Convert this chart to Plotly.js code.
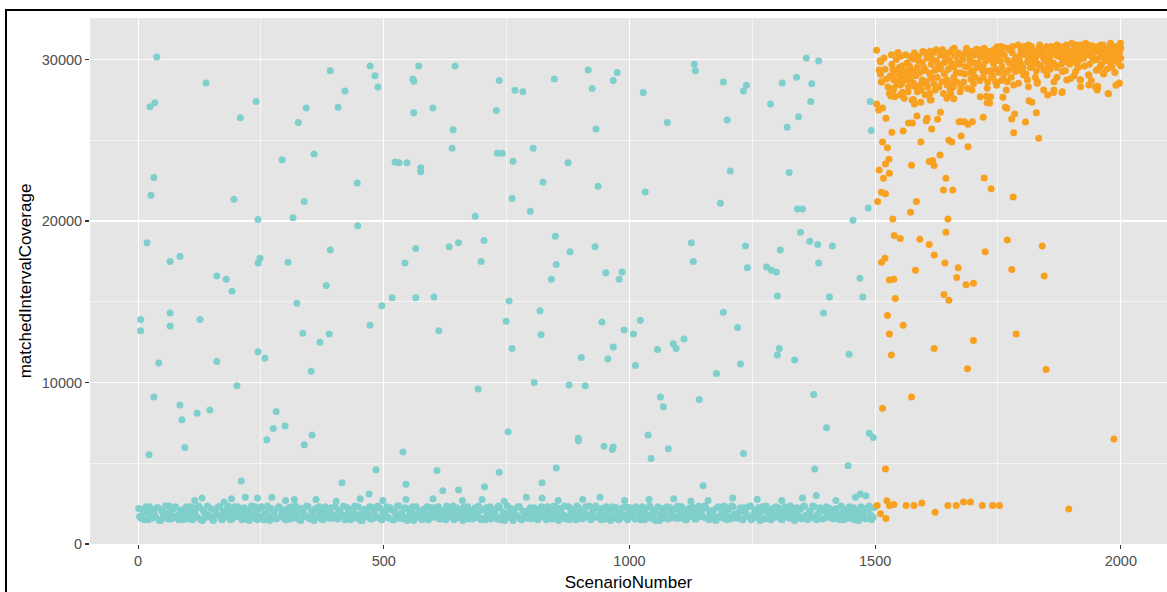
<!DOCTYPE html>
<html>
<head>
<meta charset="utf-8">
<script src="https://cdn.plot.ly/plotly-3.0.1.min.js"></script>
<style>
  html, body { margin: 0; padding: 0; background: #fff; }
  #chart { position: absolute; left: 0; top: 0; width: 1167px; height: 592px; }
  .frameL { position: absolute; left: 5px; top: 9px; width: 2px; height: 583px; background: #000; z-index: 5; }
  .frameT { position: absolute; left: 5px; top: 9px; width: 1162px; height: 2px; background: #000; z-index: 5; }
</style>
</head>
<body>
<div id="chart"></div>
<div class="frameL"></div>
<div class="frameT"></div>
<script>
// ---------------- DATA ----------------
const xTicks = [0, 500, 1000, 1500, 2000];
const yTicks = [0, 10000, 20000, 30000];
const xTitle = "ScenarioNumber";
const yTitle = "matchedIntervalCoverage";

// dense low band (teal), read as an every-5th-scenario sample starting at scenario 1
const bandAStart = 1;
const bandStep = 5;
const bandValuesA = [
  2200,1600,1900,2300,1500,1750,2100,1650,2250,1450,1850,2350,1550,2000,1700,2300,1600,1950,1500,2150,
  1800,2300,1500,2050,1650,2250,1450,1900,2350,1700,1550,2100,1800,2300,1500,1650,2200,1900,1550,2300,
  1700,2000,1500,2250,1850,1450,2350,1600,2050,1750,2300,1500,1950,1650,2200,1800,1550,2300,1700,2100,
  1500,2250,1800,1600,2350,1950,1450,2100,1700,2300,1550,1850,2200,1650,2000,1500,2300,1750,1900,1600,
  2300,1550,2050,1800,1500,2250,1700,1950,2350,1600,1850,1450,2150,1750,2300,1550,2000,1650,2250,1500,
  1850,2300,1600,2100,1500,1750,2350,1900,1550,2200,1700,2050,1450,2300,1800,1600,2150,1950,1500,2250,
  1650,2000,2300,1550,1850,1500,2200,1750,2350,1600,1950,2100,1450,1800,2300,1700,1550,2250,1900,1600,
  2100,1500,1800,2300,1650,2000,1550,2250,1700,1450,2350,1900,1600,2150,1750,2300,1500,1850,2050,1650,
  1550,2250,1950,1600,2300,1700,1500,2100,1850,2350,1650,1450,2200,1800,1550,2300,2000,1700,1500,2250,
  1900,1600,2300,1750,1500,2050,2350,1650,1850,2200,1550,1950,1450,2300,1700,2100,1600,2250,1800,1500,
  2250,1700,1550,2100,1900,2300,1500,1650,2350,1800,2000,1550,1450,2200,1750,2300,1600,1950,2150,1700,
  1600,2300,1850,1500,2200,1700,2050,1550,2350,1900,1650,2250,1500,1800,2100,1450,2300,1750,1600,2000,
  2150,1550,2300,1800,1650,2250,1500,1950,1700,2350,1600,2100,1850,1450,2300,1550,2000,1750,2200,1650,
  1750,2000,1500,2300,1900,1600,2150,1450,2250,1700,1550,2350,1800,2050,1650,2300,1500,1950,2100,1600,
  2300,1650,1900,1550,2200,1750,2350,1500,1850,2050,1600,2250,1700,1450,2300,1950,1550,2100,1800,1650
];
// second band sample, every 5th scenario starting at scenario 3
const bandBStart = 3;
const bandValuesB = [
  1700,2150,1500,1950,2300,1600,1850,2250,1450,2050,1650,1900,2350,1550,2200,1750,1500,2100,1800,2300,
  1550,1950,2250,1700,2350,1500,2050,1650,1800,2200,1450,1900,2300,1600,2000,1750,2350,1500,2150,1850,
  2300,1650,1850,1550,2100,2000,1700,2300,1500,2200,1650,1900,2350,1450,1750,2050,1600,2250,1900,1550,
  1950,1550,2300,2050,1650,1500,2200,1800,2350,1600,2000,1450,1700,2300,1550,1850,2150,1600,2250,1800,
  1650,2100,1850,2350,1600,1950,1500,2150,1800,2300,1450,2050,1700,1900,1550,2250,1750,2350,1600,1950,
  2050,1650,2250,1500,1950,2350,1600,1750,2250,1450,1900,2300,1650,1850,2050,1500,1750,2300,1650,1850,
  2250,1800,1550,2100,1950,2350,1650,2000,1500,2250,1700,1600,2300,1950,1550,2050,1850,1650,2350,1500,
  1600,2250,2050,1550,2150,1750,2350,1500,1950,1850,1650,2200,1450,1800,2300,1550,2050,1700,1600,2250,
  2000,1700,1500,2150,1800,2000,2300,1650,1550,1950,2250,1850,1600,2350,1700,1500,2150,1900,2350,1700,
  1550,2050,1800,2350,1900,1650,1700,2200,1500,1750,2300,1650,2050,1600,2250,1500,1850,1700,2300,1950,
  1800,2050,2300,1650,1500,1950,2200,1800,1600,2100,1450,2300,1850,1600,2000,1550,2250,1700,1600,2350,
  2000,1650,1500,2100,1800,2300,1550,1900,1700,2150,2350,1600,2000,1550,1750,2250,1650,2050,2350,1500,
  1700,2350,1850,1600,2000,1550,2250,1800,2300,1500,1850,1650,2250,2000,1600,2350,1700,1500,1900,2300,
  2250,1550,1850,2050,1650,2350,1750,1950,1600,2150,2300,1750,1500,2000,2350,1600,1850,2250,1550,2050,
  1850,2200,1600,2050,1750,1500,1950,2150,1600,2300,1900,1500,2050,1800,1650,2200,1600,2350,1500,2250
];

// teal points just above the band [scenario, coverage]
const tealLowOutliers = [
  [115,2700],[130,2850],[175,2600],[190,2800],[218,2900],[243,2850],[272,2900],[300,2700],[318,2750],[362,2750],
  [403,2650],[452,2800],[470,3100],[498,2700],[545,2750],[600,2800],[660,2700],[700,2750],[745,2650],[790,2900],
  [822,2850],[855,2700],[905,2750],[940,2900],[990,2700],[1040,2750],[1090,2800],[1125,2650],[1160,2700],[1210,2850],
  [1260,2750],[1310,2700],[1352,2850],[1380,3000],[1420,2700],[1460,2900],[1470,3100],[1481,2990],
  [545,3700],[705,3550],[822,3800],[1150,3600]
];

// teal scattered points [scenario, coverage]
const tealScatter = [
  [5,13900],[5,13200],[18,18650],[22,5530],[24,27070],[34,27320],[38,30160],[26,21600],[32,22700],[32,9100],
  [42,11200],[65,17500],[65,14300],[65,13500],[85,17800],[85,8600],[89,7700],[95,5970],[120,8100],[126,13900],
  [138,28550],[146,8300],[160,11300],[160,16600],[179,16400],[191,15650],[195,21350],[201,9800],[208,26400],[210,3900],
  [240,27400],[244,20100],[244,17400],[248,17700],[244,11900],[258,11500],[262,6450],[275,7150],[281,8200],[293,23800],
  [299,7300],[305,17450],[315,20200],[323,14900],[326,26100],[338,21200],[335,13050],[338,6150],[342,27000],[352,10700],
  [354,6750],[358,24150],[370,12500],[383,16000],[389,13000],[391,18200],[391,29300],[407,27050],[415,3800],[421,28050],
  [446,22350],[447,19700],[472,13550],[472,29600],[482,29000],[488,28300],[484,4600],[496,14750],[517,15250],[523,23650],
  [531,23600],[539,5700],[543,17400],[547,23600],[559,28800],[561,28650],[561,26700],[565,18300],[565,15250],[571,29600],
  [575,23300],[575,23050],[600,27000],[602,15300],[608,4550],[612,13200],[620,3300],[633,18400],[639,24500],[641,25650],
  [645,29600],[652,18650],[652,3350],[686,20300],[698,17500],[704,18800],[692,9600],[729,26850],[731,24200],[735,28700],
  [741,24200],[735,4450],[749,13800],[755,15050],[753,6950],[761,12100],[763,23700],[761,21400],[767,28100],[783,28000],
  [798,20600],[804,24500],[806,10000],[818,14450],[820,12950],[824,22400],[841,16400],[849,19050],[851,4700],[851,17300],
  [847,28800],[875,23600],[879,18100],[877,9850],[896,6550],[896,6400],[902,11550],[910,9800],[916,29350],[924,28200],
  [930,18400],[932,25700],[936,22150],[944,13750],[948,6050],[952,16800],[956,11450],[965,5850],[967,6000],[967,12200],
  [967,28700],[975,29200],[979,16400],[985,16850],[989,13250],[1008,13000],[1012,11050],[1022,13850],[1028,27950],[1032,21800],
  [1038,6750],[1044,5300],[1057,12050],[1063,9100],[1069,8500],[1077,26100],[1079,5900],[1089,12400],[1095,12100],[1111,12700],
  [1126,18650],[1132,29700],[1134,29300],[1130,17500],[1142,8950],[1177,10550],[1185,21100],[1191,28600],[1191,14350],[1199,26250],
  [1205,23100],[1220,13400],[1226,11150],[1232,28050],[1238,28400],[1236,18450],[1240,17100],[1232,5600],[1287,27250],[1279,17150],
  [1289,16950],[1299,16850],[1301,11700],[1305,12100],[1301,15350],[1311,28550],[1307,18200],[1321,25800],[1325,23000],[1336,11400],
  [1340,28900],[1344,26450],[1342,20750],[1352,20750],[1348,19300],[1360,30100],[1369,27400],[1371,28500],[1367,18750],[1375,9250],
  [1385,29900],[1385,17400],[1383,18550],[1395,14300],[1401,7200],[1407,15300],[1413,18450],[1377,4650],[1447,11750],[1445,4850],
  [1455,20050],[1469,16450],[1475,15300],[1486,20800],[1490,27400],[1492,25600],[1488,6850],[1496,6600]
];

// orange dense upper cloud [scenario, coverage]
const orangeCloud = [
  [1546,30420],[1534,29700],[1565,29800],[1572,30170],[1578,30030],[1589,29890],[1596,29800],[1601,30440],[1612,30510],[1619,30440],
  [1628,30510],[1635,30280],[1643,30110],[1652,30440],[1661,30690],[1660,29550],[1668,29850],[1677,30170],[1684,30440],[1673,29180],
  [1684,29550],[1693,29960],[1702,30280],[1706,30630],[1714,30170],[1723,30280],[1730,30070],[1739,30230],[1748,30790],[1755,30590],
  [1761,30760],[1714,29550],[1728,29250],[1741,29760],[1751,29960],
  [1541,29140],[1548,28620],[1558,29250],[1561,28830],[1578,28530],[1592,28420],[1605,28620],[1612,29140],[1622,29350],[1636,28620],
  [1646,28730],[1656,28530],
  [1538,28220],[1551,27800],[1575,27500],[1582,28320],[1602,27800],[1612,27500],[1622,28110],[1639,27900],[1653,28110],[1673,28010],
  [1697,28110],[1714,27700],[1728,28220],[1511,29860],[1513,28620],[1745,28620],[1735,27700],
  [1769,29960],[1779,30420],[1789,30170],[1796,30790],[1806,30480],[1812,30900],[1822,30380],[1833,30690],[1843,30070],[1849,30790],
  [1860,30480],[1870,30900],[1880,30380],[1890,30690],[1900,31000],[1911,30480],[1918,30900],[1928,31000],[1938,30790],[1948,30480],
  [1959,30900],[1969,30690],[1979,31000],[1989,30790],[1998,30900],
  [1772,29350],[1782,29550],[1796,29760],[1810,29860],[1820,30070],[1830,29760],[1843,29350],[1857,29860],[1867,29660],[1877,30170],
  [1890,29860],[1900,30170],[1911,29760],[1924,30070],[1934,30380],[1944,29960],[1958,30170],[1972,30380],[1985,30170],[1996,30380],
  [1786,29250],[1810,28730],[1830,28620],[1850,29040],[1864,28620],[1881,29250],[1898,28830],[1908,29250],[1918,28730],[1935,29040],
  [1952,29350],[1965,29140],[1979,29760],[1996,30170],[1997,28530],[1974,27900],[1952,28220],[1948,28320],
  [1769,28620],[1782,28420],[1792,28530],[1802,29040],[1812,28320],[1830,28530],[1843,28110],[1864,28110],[1881,28010],[1890,28730],
  [1918,28320],[1935,28420],[1952,28110],[1758,29550],[1761,28830],[1767,28110],
  [1545,29250],[1551,28940],[1558,29180],[1565,28730],[1575,28530],[1582,28320],[1596,28730],[1604,28530],[1612,29040],[1622,29350],
  [1629,29660],[1538,28730],[1545,28530],[1551,28420],[1568,28320],
  [1775,30600],[1800,30300],[1815,30650],[1838,30350],[1855,30150],[1875,30600],[1885,30200],[1895,30450],[1905,30700],[1915,30300],
  [1922,30650],[1942,30850],[1955,30550],[1962,30250],[1976,30600],[1992,30450],[2000,30700],[1826,30050],[1868,30300],[1930,30550],
  [1990,30100],[1940,30200],[1914,29950],[1882,29900],[1852,29650],[1816,29500],[1798,29300],[1960,29700],[1982,29500],[2000,30100],
  [1640,29800],[1650,30000],[1665,29200],[1690,29600],[1700,29300],[1710,29800],[1720,29600],[1735,30000],[1745,29400],[1755,29900],
  [1720,28900],[1695,28800],[1680,28600],[1660,28900],[1625,29900],[1605,30100],[1585,29500],[1568,29300],[1555,29600],[1615,28850],
  [1700,28500],[1740,29000],[1757,28700]
];

const orangeCloudExtra = [
  [1518,30100],[1520,29400],[1523,28800],[1526,28300],[1529,27900],[1531,29000],[1533,30300],[1536,29400],[1540,27700],[1543,30000],
  [1549,29500],[1552,30200],[1554,28500],[1559,27600],[1562,30300],[1564,29100],[1567,28000],[1570,29600],[1573,28900],[1577,29300],
  [1580,30400],[1583,29000],[1586,28000],[1588,30200],[1591,29200],[1594,28100],[1597,30500],[1599,29500],
  [1603,29300],[1607,28300],[1609,30300],[1611,27900],[1614,29700],[1617,30000],[1620,28500],[1624,30600],[1626,28900],[1630,28300],
  [1632,30300],[1634,29400],[1637,30600],[1641,29100],[1644,30400],[1647,28400],[1649,29400],[1654,29800],[1657,30600],[1659,28300],
  [1663,30200],[1666,28600],[1670,30400],[1672,29700],[1675,28300],[1679,30000],[1682,29100],[1686,30700],[1688,28200],[1691,30300],
  [1694,29200],[1698,30500],[1701,29800],[1704,28900],[1707,29500],[1711,30600],[1713,28700],[1717,30400],[1719,29300],[1722,30700],
  [1725,29900],[1729,28600],[1732,30500],[1734,29300],[1737,28900],[1742,30600],[1744,29900],[1747,28400],[1750,30300],[1753,29200],
  [1756,30800],
  [1763,30300],[1766,29200],[1770,30700],[1773,29800],[1777,28900],[1780,30800],[1784,30000],[1787,29600],[1791,30900],[1794,29900],
  [1797,30500],[1801,29500],[1804,30800],[1807,29100],[1811,30200],[1814,29900],[1818,30800],[1821,29700],[1824,30500],[1828,29300],
  [1831,30300],[1835,30900],[1837,29600],[1841,30500],[1845,29900],[1847,30700],[1853,30300],[1856,29400],[1859,30800],[1862,29800],
  [1866,30600],[1869,29500],[1872,30200],[1876,30800],[1879,29700],[1883,30500],[1887,29300],[1889,30900],[1892,30100],[1896,29700],
  [1899,30500],[1903,29900],[1906,30300],[1909,30900],[1913,29500],[1916,30500],[1920,30100],[1923,30800],[1926,29600],[1929,30300],
  [1933,30900],[1936,29700],[1939,30400],[1943,30100],[1946,30700],[1950,30000],[1954,30800],[1957,29500],[1961,30500],[1964,30900],
  [1967,29900],[1971,30600],[1974,30200],[1978,30800],[1981,29900],[1984,30600],[1987,30300],[1991,30800],[1994,29800],[1997,30500],
  [1999,31000],[1971,29400],[1988,29200],[1940,28700],[1905,29000],[1870,28900],[1826,28900],[1990,28400],[2000,29600]
];

// orange scattered points [scenario, coverage]
const orangeScatter = [
  [1503,30570],[1510,29925],[1508,29350],[1511,29080],[1513,28610],[1547,30420],[1503,27250],[1507,26870],[1515,27000],[1522,26360],
  [1532,27740],[1537,28110],[1553,27860],[1556,27970],[1534,25490],[1557,25570],[1568,26070],[1576,26070],[1585,26500],[1578,27530],
  [1580,27250],[1593,27350],[1593,24890],[1606,26360],[1604,26210],[1615,25700],[1614,27510],[1627,26300],[1633,26730],[1646,27600],
  [1654,27860],[1660,27570],[1650,25000],[1656,24890],[1632,24090],[1675,25270],[1671,26150],[1677,26150],[1682,26150],[1698,26150],
  [1689,25990],[1689,24600],[1720,26420],[1728,27330],[1733,27310],[1727,27720],[1760,27660],[1765,27040],[1768,26980],[1778,26320],
  [1784,26630],[1782,25470],[1806,26130],[1813,27450],[1819,27350],[1828,26710],[1833,25120],[1851,27800],[1863,27950],[1880,27950],
  [1917,28750],[1934,29040],[1950,29330],[1951,28220],[1953,28340],[1975,27880],[1997,28540],[1965,29100],
  [1515,24890],[1525,24540],[1528,23820],[1521,23530],[1508,23160],[1529,22960],[1517,22650],[1513,21780],[1521,21690],[1505,21200],
  [1574,23450],[1610,23680],[1617,23740],[1620,23430],[1644,22650],[1639,21920],[1658,21920],[1584,21200],[1572,20540],[1536,20130],
  [1648,20130],[1722,22670],[1736,21990],[1781,21490],
  [1539,19100],[1551,18910],[1591,18870],[1644,19310],[1769,18830],
  [1513,17450],[1520,17700],[1529,16350],[1538,16400],[1541,15200],[1525,14150],[1529,13000],[1533,11700],[1515,8400],[1521,4650],
  [1557,13550],[1574,9100],[1582,16950],[1610,18550],[1620,17900],[1642,17400],[1650,15100],[1666,16500],[1685,16050],[1700,16150],
  [1669,17100],[1724,18100],[1778,17000],[1787,13000],[1840,18450],[1844,16600],[1848,10800],[1688,10850],[1640,15450],[1700,12600],
  [1986,6500],[1620,12100],
  [1504,2390],[1524,2680],[1529,2390],[1538,2450],[1511,1870],[1522,1580],[1563,2390],[1579,2390],[1595,2540],[1622,1960],
  [1648,2390],[1665,2390],[1680,2600],[1694,2600],[1718,2390],[1739,2390],[1753,2390],[1894,2170]
];

// ---------------- BUILD ----------------
const teal = '#7FCFCD';
const orange = '#F8A120';

const bandX = bandValuesA.map((_, i) => bandAStart + i * bandStep)
  .concat(bandValuesB.map((_, i) => bandBStart + i * bandStep));
const bandY = bandValuesA.concat(bandValuesB);
const tealAll = tealLowOutliers.concat(tealScatter);
const orangeAll = orangeCloud.concat(orangeCloudExtra, orangeScatter);

const traces = [
  { type: 'scatter', mode: 'markers', x: bandX, y: bandY,
    marker: { color: teal, size: 7, line: { width: 0 } }, hoverinfo: 'x+y' },
  { type: 'scatter', mode: 'markers', x: tealAll.map(p => p[0]), y: tealAll.map(p => p[1]),
    marker: { color: teal, size: 7, line: { width: 0 } }, hoverinfo: 'x+y' },
  { type: 'scatter', mode: 'markers', x: orangeAll.map(p => p[0]), y: orangeAll.map(p => p[1]),
    marker: { color: orange, size: 7, line: { width: 0 } }, hoverinfo: 'x+y' }
];

const fontFam = '"Liberation Sans", Arial, sans-serif';

const layout = {
  width: 1167, height: 592,
  margin: { l: 90, r: 0, t: 18, b: 48, pad: 0 },
  paper_bgcolor: '#ffffff',
  plot_bgcolor: '#E5E5E5',
  showlegend: false,
  font: { family: fontFam, color: '#4d4d4d' },
  xaxis: {
    range: [-98, 2094],
    tickvals: xTicks, ticktext: xTicks.map(String),
    ticks: 'outside', ticklen: 4, tickwidth: 1.1, tickcolor: '#333333',
    tickfont: { family: fontFam, size: 14.5, color: '#4d4d4d' },
    showgrid: true, gridcolor: '#ffffff', gridwidth: 1.3,
    minor: { dtick: 250, tick0: 0, showgrid: true, gridcolor: '#ffffff', gridwidth: 0.6, ticks: '' },
    zeroline: false, showline: false, automargin: false,
    title: { text: xTitle, font: { family: fontFam, size: 17, color: '#000000' }, standoff: 7 }
  },
  yaxis: {
    range: [0, 32570],
    tickvals: yTicks, ticktext: yTicks.map(String),
    ticks: 'outside', ticklen: 4, tickwidth: 1.1, tickcolor: '#333333',
    tickfont: { family: fontFam, size: 14.5, color: '#4d4d4d' },
    showgrid: true, gridcolor: '#ffffff', gridwidth: 1.3,
    minor: { dtick: 5000, tick0: 0, showgrid: true, gridcolor: '#ffffff', gridwidth: 0.6, ticks: '' },
    zeroline: false, showline: false, automargin: false,
    title: { text: yTitle, font: { family: fontFam, size: 17, color: '#000000' }, standoff: 5 }
  }
};

Plotly.newPlot('chart', traces, layout, { displayModeBar: false, staticPlot: true });
</script>
</body>
</html>
